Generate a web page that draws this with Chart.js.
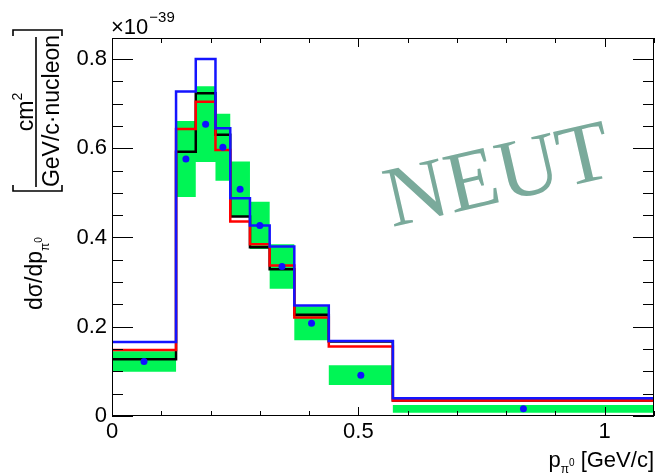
<!DOCTYPE html>
<html>
<head>
<meta charset="utf-8">
<script src="https://cdn.jsdelivr.net/npm/chart.js@4"></script>
<style>
  html, body { margin: 0; padding: 0; background: #fff; }
  #wrap { width: 658px; height: 474px; }
</style>
</head>
<body>
<div id="wrap"><canvas id="xsec" width="658" height="474"></canvas></div>
<script>
// bins in p_pi0 [GeV/c]
const binEdges = [0, 0.13, 0.17, 0.21, 0.24, 0.28, 0.32, 0.37, 0.44, 0.57, 1.1];

// data points (x 1e-39) and their errors
const dataValues = [0.122, 0.576, 0.654, 0.602, 0.508, 0.427, 0.335, 0.208, 0.0915, 0.016];
const dataErrors = [0.023, 0.085, 0.085, 0.075, 0.062, 0.053, 0.050, 0.038, 0.022, 0.0085];

// model histograms
const blueHist  = [0.166, 0.727, 0.800, 0.645, 0.488, 0.427, 0.380, 0.2475, 0.168, 0.040];
const redHist   = [0.148, 0.643, 0.704, 0.596, 0.436, 0.385, 0.337, 0.2206, 0.1557, 0.035];
const blackHist = [0.127, 0.592, 0.723, 0.630, 0.447, 0.378, 0.329, 0.2266, 0.167, 0.035];

const xTicks = [0, 0.5, 1];
const xTickLabels = ['0', '0.5', '1'];
const yTicks = [0, 0.2, 0.4, 0.6, 0.8];
const yTickLabels = ['0', '0.2', '0.4', '0.6', '0.8'];

const FONT = '"Liberation Sans", Arial, sans-serif';

// step points: value holds from left edge to next edge
function steps(vals) {
  const pts = vals.map((v, i) => ({ x: binEdges[i], y: v }));
  pts.push({ x: binEdges[binEdges.length - 1], y: vals[vals.length - 1] });
  return pts;
}
const centers = dataValues.map((v, i) => ({ x: (binEdges[i] + binEdges[i + 1]) / 2, y: v }));
const lowBand = steps(dataValues.map((v, i) => v - dataErrors[i]));
const highBand = steps(dataValues.map((v, i) => v + dataErrors[i]));

// frame, inner ticks, titles, watermark
const decorations = {
  id: 'decorations',
  afterDraw(chart) {
    const ctx = chart.ctx;
    const a = chart.chartArea;
    const xs = chart.scales.x, ys = chart.scales.y;
    ctx.save();
    ctx.strokeStyle = '#000';
    ctx.lineWidth = 1;
    ctx.strokeRect(a.left + 0.5, a.top + 0.5, a.right - a.left - 1, a.bottom - a.top - 1);

    ctx.beginPath();
    for (let k = 0; k <= 11; k++) {
      const v = k / 10;
      const px = Math.round(xs.getPixelForValue(v)) + 0.5;
      const len = (k % 5 === 0) ? 9 : 5;
      ctx.moveTo(px, a.bottom); ctx.lineTo(px, a.bottom - len);
      ctx.moveTo(px, a.top); ctx.lineTo(px, a.top + len);
    }
    for (let k = 0; k <= 16; k++) {
      const v = k * 0.05;
      const py = Math.round(ys.getPixelForValue(v)) + 0.5;
      const len = (k % 4 === 0) ? 21 : 11;
      ctx.moveTo(a.left, py); ctx.lineTo(a.left + len, py);
      ctx.moveTo(a.right, py); ctx.lineTo(a.right - len, py);
    }
    ctx.stroke();

    ctx.fillStyle = '#000';
    ctx.textBaseline = 'alphabetic';
    ctx.textAlign = 'left';

    // exponent
    ctx.font = '22px ' + FONT;
    ctx.fillText('\u00d710', a.left - 1, 34);
    const w10 = ctx.measureText('\u00d710').width;
    ctx.font = '15px ' + FONT;
    ctx.fillText('\u221239', a.left + w10, 22);

    // x title
    const parts = [
      ['p', 22, 0], ['\u03c0', 12, 6], ['0', 10, -1], [' [GeV/c]', 22, 0]
    ];
    let total = 0;
    parts.forEach(p => { ctx.font = p[1] + 'px ' + FONT; total += ctx.measureText(p[0]).width; });
    let cx = a.right - total;
    parts.forEach(p => {
      ctx.font = p[1] + 'px ' + FONT;
      ctx.fillText(p[0], cx, 467 + p[2]);
      cx += ctx.measureText(p[0]).width;
    });

    // y title, drawn in rotated frame: (u, v) -> canvas (v, -u)
    ctx.save();
    ctx.rotate(-Math.PI / 2);
    let u = -310;
    [['d\u03c3/dp', 23, 42], ['\u03c0', 12, 49], ['0', 10, 42]].forEach(p => {
      ctx.font = p[1] + 'px ' + FONT;
      ctx.fillText(p[0], u, p[2]);
      u += ctx.measureText(p[0]).width;
    });
    ctx.font = '23px ' + FONT;
    const wcm = ctx.measureText('cm').width;
    ctx.font = '14px ' + FONT;
    const w2 = ctx.measureText('2').width;
    let u0 = -112 - (wcm + w2) / 2;
    ctx.font = '23px ' + FONT;
    ctx.fillText('cm', u0, 33);
    ctx.font = '14px ' + FONT;
    ctx.fillText('2', u0 + wcm, 22);
    ctx.font = '23px ' + FONT;
    ctx.textAlign = 'center';
    ctx.fillText('GeV/c\u00b7nucleon', -111, 59);
    ctx.restore();

    ctx.lineWidth = 1.6;
    ctx.beginPath();
    ctx.moveTo(36, 37); ctx.lineTo(36, 187);
    // left bracket
    ctx.moveTo(13, 185); ctx.lineTo(13, 191); ctx.lineTo(62, 191); ctx.lineTo(62, 185);
    // right bracket
    ctx.moveTo(13, 36); ctx.lineTo(13, 30); ctx.lineTo(62, 30); ctx.lineTo(62, 36);
    ctx.stroke();

    // watermark
    ctx.translate(392, 227);
    ctx.rotate(-13 * Math.PI / 180);
    ctx.font = '86px "Liberation Serif", "Times New Roman", serif';
    ctx.fillStyle = 'rgb(122,170,155)';
    ctx.textAlign = 'left';
    ctx.fillText('NEUT', 0, 0);
    ctx.restore();
  }
};

const histLine = (data, color) => ({
  data: data, borderColor: color, borderWidth: 2.5, stepped: 'before',
  pointRadius: 0, fill: false, backgroundColor: color
});

new Chart(document.getElementById('xsec').getContext('2d'), {
  type: 'line',
  data: {
    datasets: [
      { data: centers, showLine: false, pointRadius: 3.5, pointStyle: 'circle',
        pointBackgroundColor: '#1010ff', pointBorderColor: '#1010ff', borderWidth: 0 },
      histLine(steps(blueHist), '#1414ff'),
      histLine(steps(redHist), '#ff0000'),
      histLine(steps(blackHist), '#000000'),
      { data: lowBand, stepped: 'before', pointRadius: 0, borderWidth: 0, fill: false },
      { data: highBand, stepped: 'before', pointRadius: 0, borderWidth: 0,
        fill: '-1', backgroundColor: 'rgb(0,245,85)' }
    ]
  },
  options: {
    responsive: false,
    animation: false,
    layout: { padding: { top: 38, right: 2, left: 0, bottom: 0 } },
    plugins: { legend: { display: false }, tooltip: { enabled: false } },
    scales: {
      x: {
        type: 'linear', min: 0, max: 1.1,
        grid: { display: false, drawTicks: false },
        border: { display: false },
        afterBuildTicks: s => { s.ticks = xTicks.map(v => ({ value: v })); },
        afterFit: s => { s.height = 58; },
        ticks: {
          padding: 3, color: '#000', maxRotation: 0,
          font: { family: FONT, size: 22 },
          callback: (v, i) => xTickLabels[i]
        }
      },
      y: {
        type: 'linear', min: 0, max: 0.847,
        grid: { display: false, drawTicks: false },
        border: { display: false },
        afterBuildTicks: s => { s.ticks = yTicks.map(v => ({ value: v })); },
        afterFit: s => { s.width = 112; },
        ticks: {
          padding: 5, color: '#000',
          font: { family: FONT, size: 22 },
          callback: (v, i) => yTickLabels[i]
        }
      }
    }
  },
  plugins: [decorations]
});
</script>
</body>
</html>
